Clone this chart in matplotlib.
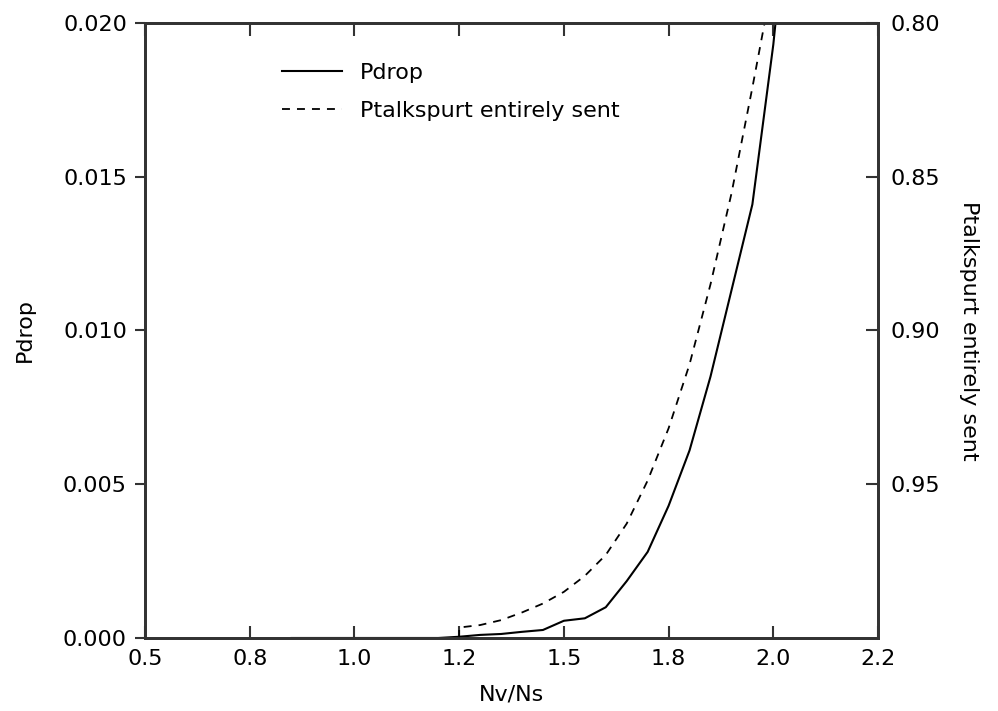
import matplotlib
matplotlib.use("Agg")
import matplotlib.pyplot as plt
from matplotlib.ticker import FormatStrFormatter

plt.rcParams['font.family'] = ['DejaVu Sans']

# Pdrop (left axis)
nv_ns_drop = [0.85, 0.90, 1.00, 1.10, 1.20, 1.25, 1.30, 1.35, 1.40, 1.45, 1.50,
              1.55, 1.60, 1.65, 1.70, 1.75, 1.80, 1.85, 1.90, 1.95, 1.975, 2.00, 2.05]
pdrop = [0.0, 0.0, 0.0, 0.0, 0.0, 0.00004, 0.0001, 0.00013, 0.0002, 0.00026, 0.00056,
         0.00064, 0.0010, 0.00185, 0.0028, 0.0043, 0.0061, 0.0085, 0.0113, 0.0141, 0.0167,
         0.0193, 0.026]

# Ptalkspurt entirely sent (right axis, inverted)
nv_ns_sent = [1.25, 1.25, 1.30, 1.35, 1.40, 1.45, 1.50, 1.55, 1.60, 1.65, 1.70,
              1.75, 1.80, 1.85, 1.90, 1.95, 2.00]
psent = [1.0, 0.9966, 0.9958, 0.9942, 0.9917, 0.9888, 0.9850, 0.9798, 0.9730, 0.9628, 0.9488,
         0.9318, 0.9110, 0.8850, 0.8555, 0.8210, 0.785]

xticks = [0.5, 0.75, 1.0, 1.25, 1.5, 1.75, 2.0, 2.25]
yticks_left = [0.0, 0.005, 0.010, 0.015, 0.020]
yticks_right = [0.80, 0.85, 0.90, 0.95]

FS = 16
SPINE = '#333333'

fig = plt.figure(figsize=(9.98, 7.11), dpi=100)
ax = fig.add_axes([0.1453, 0.1027, 0.7345, 0.865])
ax2 = ax.twinx()

l1, = ax.plot(nv_ns_drop, pdrop, color='black', lw=1.5, label='Pdrop')
l2, = ax2.plot(nv_ns_sent, psent, color='black', lw=1.3, dashes=[4.4, 3.9],
               label='Ptalkspurt entirely sent')

ax.set_xlim(0.5, 2.25)
ax.set_ylim(0, 0.02)
ax2.set_ylim(1.0, 0.8)

ax.set_xticks(xticks)
ax.xaxis.set_major_formatter(FormatStrFormatter('%.1f'))
ax.set_yticks(yticks_left)
ax.yaxis.set_major_formatter(FormatStrFormatter('%.3f'))
ax2.set_yticks(yticks_right)
ax2.yaxis.set_major_formatter(FormatStrFormatter('%.2f'))

ax.tick_params(axis='x', direction='in', length=9, width=1.5, color=SPINE,
               top=True, labelsize=FS, pad=8)
ax.tick_params(axis='y', direction='out', length=7, width=1.5, color=SPINE,
               labelsize=FS, pad=6)
ax2.tick_params(axis='y', direction='in', length=9, width=1.5, color=SPINE,
                labelsize=FS, pad=9)

for a in (ax, ax2):
    for s in a.spines.values():
        s.set_color(SPINE)
        s.set_linewidth(2)

ax.set_xlabel('Nv/Ns', fontsize=FS, labelpad=11)
ax.set_ylabel('Pdrop', fontsize=FS, labelpad=20)
ax2.set_ylabel('Ptalkspurt entirely sent', fontsize=FS, rotation=270, labelpad=28)

ax.legend(handles=[l1, l2], loc='upper left', bbox_to_anchor=(0.16, 0.967),
          frameon=False, fontsize=FS, handlelength=2.7, handletextpad=0.8,
          labelspacing=0.78)

fig.savefig('out.png', dpi=100)
